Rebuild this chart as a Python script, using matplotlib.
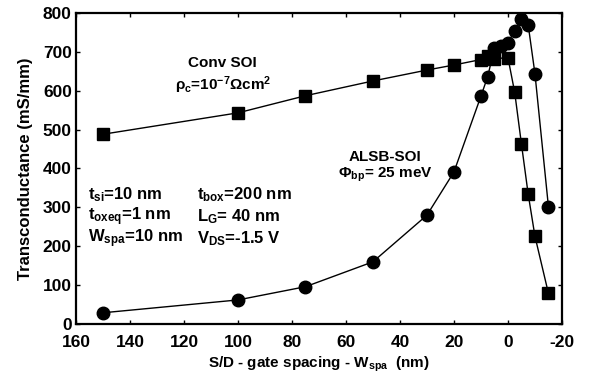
import matplotlib
matplotlib.use('Agg')
import matplotlib.pyplot as plt

plt.rcParams['font.family'] = 'Liberation Sans'
plt.rcParams['font.weight'] = 'bold'
plt.rcParams['mathtext.fontset'] = 'custom'
plt.rcParams['mathtext.rm'] = 'Liberation Sans:bold'
plt.rcParams['mathtext.it'] = 'Liberation Sans:bold'
plt.rcParams['mathtext.bf'] = 'Liberation Sans:bold'
plt.rcParams['axes.unicode_minus'] = False

# Conv SOI (squares)
convX = [150, 100, 75, 50, 30, 20, 10, 7.5, 5, 0, -2.5, -5, -7.5, -10, -15]
convY = [488, 543, 587, 625, 653, 666, 680, 689, 682, 685, 596, 463, 334, 226, 79]

# ALSB-SOI (circles)
alsbX = [150, 100, 75, 50, 30, 20, 10, 7.5, 5, 2.5, 0, -2.5, -5, -7.5, -10, -15]
alsbY = [29, 62, 96, 160, 280, 391, 586, 636, 710, 715, 723, 754, 783, 769, 644, 302]

xticks = [160, 140, 120, 100, 80, 60, 40, 20, 0, -20]
yticks = [0, 100, 200, 300, 400, 500, 600, 700, 800]

fig = plt.figure(figsize=(5.94, 3.79), dpi=100)
ax = fig.add_axes([0.128, 0.145, 0.818, 0.821])

ax.plot(convX, convY, 'k-', lw=1, marker='s', ms=8.5, mfc='k', mec='k')
ax.plot(alsbX, alsbY, 'k-', lw=1, marker='o', ms=9, mfc='k', mec='k')

ax.set_xlim(160, -20)
ax.set_ylim(0, 800)
ax.set_xticks(xticks)
ax.set_yticks(yticks)
ax.tick_params(direction='in', length=3, width=1, top=True, right=True,
               labelsize=12.5)
ax.tick_params(axis='x', pad=8)
ax.tick_params(axis='y', pad=3)
for s in ax.spines.values():
    s.set_linewidth(1.6)

ax.set_xlabel('S/D - gate spacing - W$_{spa}$  (nm)', fontsize=11, fontweight='bold', labelpad=3)
ax.set_ylabel('Transconductance (mS/mm)', fontsize=12, fontweight='bold', labelpad=7)

ax.text(0.302, 0.839, 'Conv SOI', transform=ax.transAxes, ha='center', va='center', fontsize=11)
ax.text(0.302, 0.768, r'$\rho_c$=10$^{-7}$$\Omega$cm$^2$', transform=ax.transAxes,
        ha='center', va='center', fontsize=11)
ax.text(0.636, 0.537, 'ALSB-SOI', transform=ax.transAxes, ha='center', va='center', fontsize=11)
ax.text(0.636, 0.479, r'$\Phi_{bp}$= 25 meV', transform=ax.transAxes, ha='center', va='center', fontsize=11)

left = ['t$_{si}$=10 nm', 't$_{oxeq}$=1 nm', 'W$_{spa}$=10 nm']
right = ['t$_{box}$=200 nm', 'L$_G$= 40 nm', 'V$_{DS}$=-1.5 V']
rowY = [0.415, 0.344, 0.273]
for i in range(3):
    ax.text(0.025, rowY[i], left[i], transform=ax.transAxes, va='center', fontsize=12)
    ax.text(0.249, rowY[i], right[i], transform=ax.transAxes, va='center', fontsize=12)

fig.savefig('out.png', dpi=100)
